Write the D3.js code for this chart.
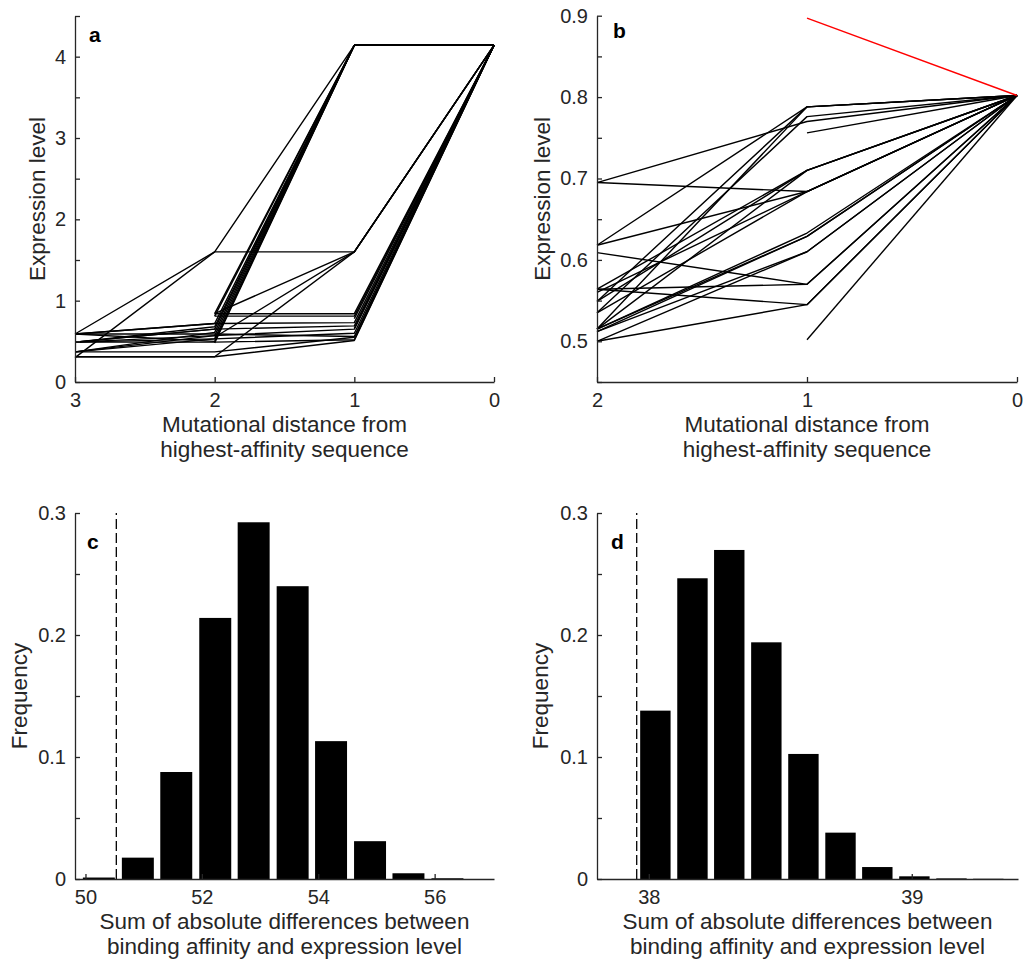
<!DOCTYPE html>
<html>
<head>
<meta charset="utf-8">
<script src="https://cdnjs.cloudflare.com/ajax/libs/d3/7.8.5/d3.min.js"></script>
<style>
  body { margin: 0; background: #fff; }
  svg { font-family: "Liberation Sans", Arial, Helvetica, sans-serif; }
  .tick text { fill: #262626; font-size: 20px; }
  .domain, .tick line { stroke: #262626; stroke-width: 1.3; }
  .axisLabel { fill: #262626; font-size: 22.5px; text-anchor: middle; }
  .panelLetter { fill: #000; font-size: 21px; font-weight: bold; }
</style>
</head>
<body>
<div id="fig"></div>
<script>
// ---- Data ----
// panel a: expression level along each path at distance 3, 2, 1, 0 (null = path starts later)
var distA = [3, 2, 1, 0];
var pathsA = [
  [0.59, 1.60, 4.14, 4.14],
  [0.30, 1.60, 1.60, 4.14],
  [null, 0.84, 4.14, 4.14],
  [null, 0.81, 4.14, 4.14],
  [0.59, 0.72, 4.14, 4.14],
  [0.49, 0.68, 4.14, 4.14],
  [0.49, 0.65, 4.14, 4.14],
  [0.37, 0.61, 4.14, 4.14],
  [0.49, 0.57, 4.14, 4.14],
  [0.37, 0.53, 4.14, 4.14],
  [0.59, 0.50, 4.14, 4.14],
  [null, 0.48, 4.14, 4.14],
  [null, 0.84, 0.84, 4.14],
  [null, 0.81, 0.81, 4.14],
  [0.59, 0.72, 0.73, 4.14],
  [0.49, 0.65, 0.69, 4.14],
  [0.37, 0.57, 0.65, 4.14],
  [0.49, 0.53, 0.60, 4.14],
  [0.59, 0.59, 0.56, 4.14],
  [0.49, 0.49, 0.52, 4.14],
  [0.31, 0.31, 0.51, 4.14],
  [0.37, 0.37, 0.55, 4.14],
  [null, 0.84, 1.60, 4.14],
  [null, 0.55, 1.60, 4.14],
  [0.31, 0.31, 1.60, 4.14],
  [null, null, 0.78, 4.14],
  [null, null, 0.66, 4.14]
];
var yTicksA = [0, 0.5, 1, 1.5, 2, 2.5, 3, 3.5, 4, 4.5];
var yTickLabelsA = ["0", "", "1", "", "2", "", "3", "", "4", ""];

// panel b: expression level along each path at distance 2, 1, 0
var distB = [2, 1, 0];
var pathsB = [
  [0.695, 0.770, 0.802],
  [0.695, 0.684, 0.802],
  [0.618, 0.788, 0.802],
  [0.618, 0.684, 0.802],
  [0.609, 0.570, 0.802],
  [0.564, 0.545, 0.802],
  [0.564, 0.570, 0.802],
  [0.564, 0.710, 0.802],
  [0.560, 0.684, 0.802],
  [0.549, 0.788, 0.802],
  [0.549, 0.710, 0.802],
  [0.535, 0.776, 0.802],
  [0.535, 0.684, 0.802],
  [0.515, 0.710, 0.802],
  [0.515, 0.633, 0.802],
  [0.515, 0.629, 0.802],
  [0.512, 0.610, 0.802],
  [0.515, 0.788, 0.802],
  [0.500, 0.545, 0.802],
  [0.500, 0.610, 0.802],
  [0.512, 0.629, 0.802],
  [null, 0.756, 0.802],
  [null, 0.502, 0.802]
];
var redPathB = [null, 0.897, 0.802];
var yTicksB = [0.45, 0.5, 0.55, 0.6, 0.65, 0.7, 0.75, 0.8, 0.85, 0.9];
var yTickLabelsB = ["", "0.5", "", "0.6", "", "0.7", "", "0.8", "", "0.9"];

// panel c: histogram of the null distribution
var binsC = [50.23, 50.90, 51.56, 52.23, 52.89, 53.56, 54.22, 54.89, 55.55, 56.22];
var freqC = [0.0012, 0.0175, 0.0877, 0.214, 0.2924, 0.240, 0.113, 0.031, 0.0047, 0.0006];
var observedC = 50.53;
var xTicksC = [50, 52, 54, 56];

// panel d: histogram of the null distribution
var binsD = [38.025, 38.166, 38.306, 38.447, 38.588, 38.729, 38.869, 39.010, 39.151, 39.291];
var freqD = [0.138, 0.2465, 0.2697, 0.194, 0.1025, 0.038, 0.0098, 0.0022, 0.0005, 0.0002];
var observedD = 37.954;
var xTicksD = [38, 39];

var yTicksHist = [0, 0.05, 0.1, 0.15, 0.2, 0.25, 0.3];
var yTickLabelsHist = ["0", "", "0.1", "", "0.2", "", "0.3"];

// ---- Layout ----
var svgWidth = 1023;
var svgHeight = 960;

var svg = d3.select("#fig")
  .append("svg")
  .attr("width", svgWidth)
  .attr("height", svgHeight);

// draw axes for one panel, returns the group
function drawAxes(x, y, opts) {
  var g = svg.append("g");

  var bottomAxis = d3.axisBottom(x)
    .tickValues(opts.xTicks)
    .tickFormat(d => d)
    .tickSizeInner(-5)
    .tickSizeOuter(0)
    .tickPadding(11);

  var leftAxis = d3.axisLeft(y)
    .tickValues(opts.yTicks)
    .tickFormat((d, i) => opts.yLabels[i])
    .tickSizeInner(-5)
    .tickSizeOuter(0)
    .tickPadding(9);

  g.append("g")
    .attr("transform", `translate(0, ${y.range()[0]})`)
    .call(bottomAxis);

  g.append("g")
    .attr("transform", `translate(${x.range()[0]}, 0)`)
    .call(leftAxis);

  // x label (two lines)
  var xMid = (x.range()[0] + x.range()[1]) / 2;
  var xl = g.append("text")
    .attr("class", "axisLabel")
    .attr("x", xMid)
    .attr("y", y.range()[0] + 50);
  xl.append("tspan").attr("x", xMid).text(opts.xLabel[0]);
  xl.append("tspan").attr("x", xMid).attr("dy", 25).text(opts.xLabel[1]);

  // y label
  var yMid = (y.range()[0] + y.range()[1]) / 2;
  g.append("text")
    .attr("class", "axisLabel")
    .attr("transform", `translate(${opts.yLabelX}, ${yMid}) rotate(-90)`)
    .text(opts.yLabel);

  // panel letter
  g.append("text")
    .attr("class", "panelLetter")
    .attr("x", opts.letterPos[0])
    .attr("y", opts.letterPos[1])
    .text(opts.letter);

  return g;
}

var distLabel = ["Mutational distance from", "highest-affinity sequence"];
var histLabel = ["Sum of absolute differences between", "binding affinity and expression level"];

// ---- Panel a ----
var xA = d3.scaleLinear().domain([3, 0]).range([75, 494]);
var yA = d3.scaleLinear().domain([0, 4.5]).range([382, 16]);

var lineA = d3.line()
  .defined(d => d[1] != null)
  .x(d => xA(d[0]))
  .y(d => yA(d[1]));

svg.append("g").selectAll("path")
  .data(pathsA)
  .enter()
  .append("path")
  .attr("d", p => lineA(p.map((v, i) => [distA[i], v])))
  .attr("fill", "none")
  .attr("stroke", "#000")
  .attr("stroke-width", 1.4)
  .attr("stroke-linejoin", "round");

drawAxes(xA, yA, {
  xTicks: distA,
  yTicks: yTicksA,
  yLabels: yTickLabelsA,
  xLabel: distLabel,
  yLabel: "Expression level",
  yLabelX: 45,
  letter: "a",
  letterPos: [89, 42]
});

// ---- Panel b ----
var xB = d3.scaleLinear().domain([2, 0]).range([597, 1017]);
var yB = d3.scaleLinear().domain([0.45, 0.9]).range([382, 15.7]);

var lineB = d3.line()
  .defined(d => d[1] != null)
  .x(d => xB(d[0]))
  .y(d => yB(d[1]));

svg.append("g").selectAll("path")
  .data(pathsB)
  .enter()
  .append("path")
  .attr("d", p => lineB(p.map((v, i) => [distB[i], v])))
  .attr("fill", "none")
  .attr("stroke", "#000")
  .attr("stroke-width", 1.4)
  .attr("stroke-linejoin", "round");

svg.append("path")
  .attr("d", lineB(redPathB.map((v, i) => [distB[i], v])))
  .attr("fill", "none")
  .attr("stroke", "#ff0000")
  .attr("stroke-width", 1.4);

drawAxes(xB, yB, {
  xTicks: distB,
  yTicks: yTicksB,
  yLabels: yTickLabelsB,
  xLabel: distLabel,
  yLabel: "Expression level",
  yLabelX: 550,
  letter: "b",
  letterPos: [613, 38]
});

// ---- Histograms ----
function drawHist(x, y, bins, freq, observed) {
  var binWidth = bins[1] - bins[0];
  var barWidth = binWidth * 0.82;

  svg.append("g").selectAll("rect")
    .data(freq)
    .enter()
    .append("rect")
    .attr("x", (d, i) => x(bins[i] - barWidth / 2))
    .attr("width", x(bins[0] + barWidth) - x(bins[0]))
    .attr("y", d => y(d))
    .attr("height", d => y(0) - y(d))
    .attr("fill", "#000");

  // observed value
  svg.append("line")
    .attr("x1", x(observed))
    .attr("x2", x(observed))
    .attr("y1", y(0))
    .attr("y2", y(0.3))
    .attr("stroke", "#000")
    .attr("stroke-width", 1.3)
    .attr("stroke-dasharray", "10,4");
}

// ---- Panel c ----
var xC = d3.scaleLinear().domain([49.82, 57.02]).range([75, 494]);
var yC = d3.scaleLinear().domain([0, 0.3]).range([879, 513]);

drawHist(xC, yC, binsC, freqC, observedC);

drawAxes(xC, yC, {
  xTicks: xTicksC,
  yTicks: yTicksHist,
  yLabels: yTickLabelsHist,
  xLabel: histLabel,
  yLabel: "Frequency",
  yLabelX: 27,
  letter: "c",
  letterPos: [87, 549]
});

// ---- Panel d ----
var xD = d3.scaleLinear().domain([37.803, 39.404]).range([597, 1018]);
var yD = d3.scaleLinear().domain([0, 0.3]).range([879, 513]);

drawHist(xD, yD, binsD, freqD, observedD);

drawAxes(xD, yD, {
  xTicks: xTicksD,
  yTicks: yTicksHist,
  yLabels: yTickLabelsHist,
  xLabel: histLabel,
  yLabel: "Frequency",
  yLabelX: 548,
  letter: "d",
  letterPos: [611, 549]
});
</script>
</body>
</html>
